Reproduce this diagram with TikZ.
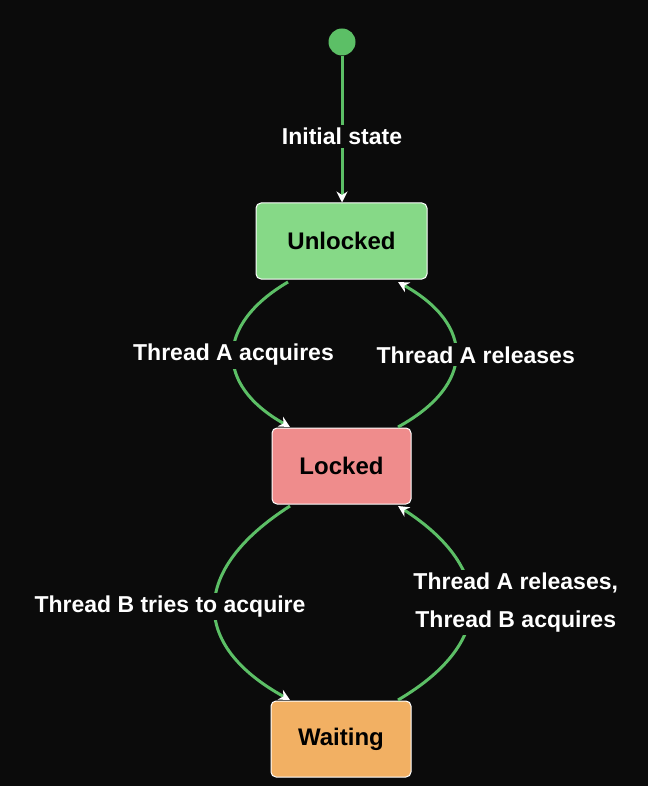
\documentclass[tikz,border=0pt]{standalone}
\usepackage{fontspec}
\setmainfont{Liberation Sans}
\usetikzlibrary{arrows.meta}
\definecolor{bg}{HTML}{0B0B0B}
\definecolor{gr}{HTML}{5CBF66}
\definecolor{ul}{HTML}{86D987}
\definecolor{lk}{HTML}{EF8C8C}
\definecolor{wt}{HTML}{F2B063}
\newcommand{\stfont}{\fontsize{24pt}{28pt}\selectfont\bfseries}
\newcommand{\lbfont}{\fontsize{23pt}{38pt}\selectfont\bfseries}
\begin{document}
\begin{tikzpicture}[x=1pt,y=-1pt,
 st/.style={draw=white,line width=1pt,rounded corners=5pt,minimum height=76pt,font=\stfont,text=black},
 ed/.style={draw=gr,line width=3pt,-{Stealth[length=11pt,width=11pt,fill=white,color=white]}},
 lb/.style={fill=bg,text=white,font=\lbfont,align=center,inner sep=3pt}]
\fill[bg] (0,0) rectangle (648,786);
\useasboundingbox (0,0) rectangle (648,786);
\node[circle,fill=gr,minimum size=27pt,inner sep=0] (s) at (342,42) {};
\node[st,fill=ul,minimum width=171pt] (u) at (341.5,241) {Unlocked};
\node[st,fill=lk,minimum width=139pt] (l) at (341.5,466) {Locked};
\node[st,fill=wt,minimum width=140pt] (w) at (341,739) {Waiting};
\coordinate (u1) at (288,282); \coordinate (u2) at (398,282);
\coordinate (l1) at (290,427); \coordinate (l2) at (398,427);
\coordinate (l3) at (290,506); \coordinate (l4) at (398,506);
\coordinate (w1) at (290,700); \coordinate (w2) at (398,700);
\draw[ed] (s) -- (u.north -| s) node[lb,pos=0.55] {Initial state};
\draw[ed] (u1) .. controls (215,325) and (215,385) .. (l1) node[lb,pos=0.5] {Thread A acquires};
\draw[ed] (l2) .. controls (475,385) and (475,325) .. (u2) node[lb,pos=0.5,xshift=20pt] {Thread A releases};
\draw[ed] (l3) .. controls (190,570) and (190,645) .. (w1) node[lb,pos=0.5,xshift=-45pt] {Thread B tries to acquire};
\draw[ed] (w2) .. controls (500,640) and (490,565) .. (l4) node[lb,pos=0.5,xshift=45pt] {Thread A releases,\\Thread B acquires};
\end{tikzpicture}
\end{document}
